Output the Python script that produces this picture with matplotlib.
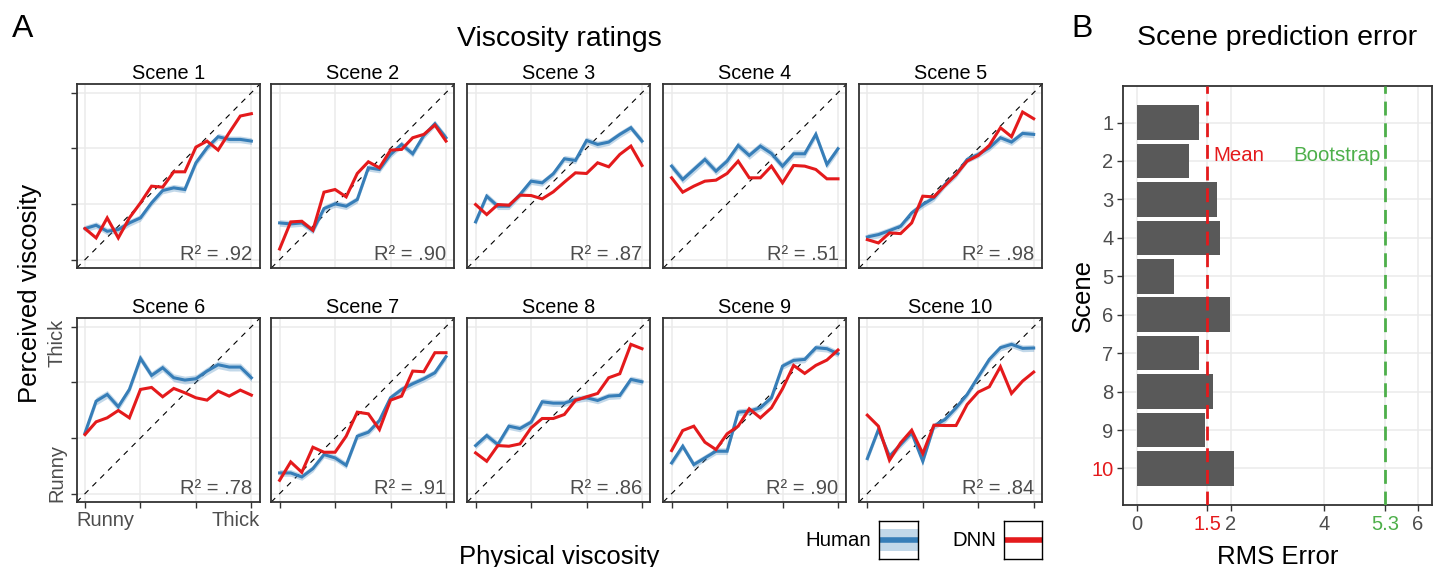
import numpy as np
import matplotlib
matplotlib.use('Agg')
import matplotlib.pyplot as plt

plt.rcParams['font.family'] = ['Liberation Sans', 'DejaVu Sans']

W, H, DPI = 1439, 567, 100

# ---- data: panel A (16 physical viscosity levels) ----
levels = list(range(1, 17))

human_1 = [3.79, 4.09, 3.55, 3.70, 4.30, 4.75, 6.10, 7.21, 7.45, 7.30, 9.70, 11.05, 12.04, 11.80, 11.80, 11.65]
dnn_1 = [3.79, 2.95, 4.75, 2.95, 4.75, 6.10, 7.60, 7.51, 8.89, 8.89, 11.11, 11.65, 10.84, 12.40, 13.90, 14.11]
human_2 = [4.30, 4.21, 4.30, 3.61, 5.59, 6.01, 5.80, 6.40, 9.25, 9.10, 10.45, 11.35, 10.51, 12.16, 13.21, 11.95]
dnn_2 = [1.96, 4.39, 4.45, 3.64, 7.06, 7.30, 6.64, 8.74, 9.79, 9.25, 10.84, 10.90, 11.95, 12.25, 13.09, 11.65]
human_3 = [4.39, 6.70, 5.80, 5.80, 6.85, 8.05, 7.90, 8.71, 10.06, 9.91, 11.71, 11.35, 11.56, 12.25, 12.85, 11.65]
dnn_3 = [5.95, 5.05, 5.95, 5.89, 6.79, 6.76, 6.46, 7.09, 7.96, 8.80, 8.74, 9.70, 9.34, 10.45, 11.20, 9.46]
human_4 = [9.40, 8.20, 9.10, 10.00, 8.95, 9.85, 11.26, 10.36, 11.20, 10.54, 9.40, 10.51, 10.51, 12.25, 9.55, 10.96]
dnn_4 = [8.35, 7.06, 7.60, 8.05, 8.14, 8.74, 9.85, 8.35, 8.35, 9.40, 7.90, 9.46, 9.40, 9.10, 8.26, 8.26]
human_5 = [3.04, 3.25, 3.61, 4.00, 5.20, 5.95, 6.55, 7.75, 8.65, 10.00, 10.45, 11.05, 11.95, 11.56, 12.34, 12.25]
dnn_5 = [2.80, 2.50, 3.40, 3.34, 4.30, 6.70, 6.64, 7.66, 8.65, 9.85, 10.36, 11.26, 12.85, 12.04, 14.26, 13.66]
human_6 = [6.46, 9.31, 9.91, 8.80, 10.36, 13.15, 11.62, 12.31, 11.41, 11.20, 11.32, 12.01, 12.58, 12.37, 12.37, 11.41]
dnn_6 = [6.31, 7.45, 7.81, 8.47, 7.81, 10.36, 10.54, 9.70, 10.45, 10.06, 9.61, 9.40, 10.21, 9.76, 10.30, 9.85]
human_7 = [2.86, 2.86, 2.50, 3.25, 4.51, 4.21, 3.55, 6.16, 6.52, 7.57, 9.61, 10.36, 10.87, 11.32, 11.86, 13.30]
dnn_7 = [2.20, 3.85, 2.92, 5.17, 4.72, 4.72, 6.16, 8.32, 8.17, 6.76, 9.40, 9.76, 12.01, 11.95, 13.66, 13.66]
human_8 = [5.32, 6.22, 5.41, 7.06, 6.85, 7.42, 9.25, 9.13, 9.13, 9.46, 9.61, 9.37, 9.76, 9.82, 11.26, 11.05]
dnn_8 = [4.66, 3.91, 5.32, 5.26, 5.47, 6.91, 7.75, 7.75, 8.11, 9.37, 9.70, 10.00, 11.41, 11.77, 14.41, 14.02]
human_9 = [3.76, 5.26, 3.61, 4.21, 4.81, 4.81, 8.32, 8.41, 8.71, 9.61, 12.46, 12.97, 13.06, 14.11, 14.02, 13.57]
dnn_9 = [4.87, 6.67, 7.06, 5.62, 4.96, 6.37, 7.06, 8.62, 7.81, 8.71, 10.42, 12.52, 11.80, 12.52, 13.00, 13.90]
human_10 = [4.15, 6.76, 4.36, 5.41, 6.46, 3.91, 7.06, 7.66, 8.71, 9.91, 11.50, 13.06, 14.11, 14.41, 14.05, 14.08]
dnn_10 = [8.05, 7.06, 4.00, 5.56, 6.70, 4.60, 7.15, 7.12, 7.12, 9.01, 10.12, 10.60, 12.40, 10.00, 11.11, 11.92]

# half width of the human confidence band per scene
human_ci = [0.30, 0.30, 0.30, 0.35, 0.30, 0.35, 0.30, 0.30, 0.30, 0.30]
r_squared = [0.92, 0.90, 0.87, 0.51, 0.98, 0.78, 0.91, 0.86, 0.90, 0.84]

# ---- data: panel B ----
scenes = list(range(1, 11))
rms_error = [1.32, 1.11, 1.71, 1.77, 0.79, 1.99, 1.32, 1.62, 1.45, 2.07]
mean_rms = 1.5
bootstrap_rms = 5.3
rms_ticks = [0, 1.5, 2, 4, 5.3, 6]
rms_tick_labels = ['0', '1.5', '2', '4', '5.3', '6']

humans = [human_1, human_2, human_3, human_4, human_5,
          human_6, human_7, human_8, human_9, human_10]
dnns = [dnn_1, dnn_2, dnn_3, dnn_4, dnn_5,
        dnn_6, dnn_7, dnn_8, dnn_9, dnn_10]

BLUE = '#377EB8'
RED = '#E41A1C'
GREEN = '#4DAF4A'
TXT_GRAY = '#4D4D4D'
FRAME = '#333333'
GRID = '#EBEBEB'

fig = plt.figure(figsize=(W / DPI, H / DPI), dpi=DPI)


def px_axes(x0, y0, x1, y1):
    return fig.add_axes([x0 / W, 1 - y1 / H, (x1 - x0) / W, (y1 - y0) / H])


def px_text(x, y, s, **kw):
    return fig.text(x / W, 1 - y / H, s, **kw)


def style_frame(ax, lw=1.3):
    for sp in ax.spines.values():
        sp.set_color(FRAME)
        sp.set_linewidth(lw)


# ===== panel A =====
col_left = [76.7, 271.3, 467.3, 663.3, 859.0]
row_top = [84.3, 318.3]
pw, ph = 183.0, 183.7
lim = (0.25, 16.75)

for i in range(10):
    r, c = divmod(i, 5)
    x0, y0 = col_left[c], row_top[r]
    ax = px_axes(x0, y0, x0 + pw, y0 + ph)
    ax.set_xlim(*lim)
    ax.set_ylim(*lim)
    ax.set_xticks([1, 6, 11, 16])
    ax.set_yticks([1, 6, 11, 16])
    ax.grid(True, color=GRID, lw=1.1)
    ax.set_axisbelow(True)
    style_frame(ax)

    h = np.array(humans[i])
    ci = human_ci[i]
    ax.plot(lim, lim, color='black', lw=0.8, dashes=(5, 5), zorder=2)
    ax.fill_between(levels, h - ci, h + ci, color=BLUE, alpha=0.3, lw=0, zorder=3)
    ax.plot(levels, h, color=BLUE, lw=2.2, zorder=4, solid_joinstyle='miter')
    ax.plot(levels, dnns[i], color=RED, lw=2.2, zorder=5, solid_joinstyle='miter')

    ax.text(0.958, 0.045, 'R\u00b2 = ' + ('%.2f' % r_squared[i])[1:],
            transform=ax.transAxes, ha='right', va='baseline',
            fontsize=14.5, color=TXT_GRAY)
    ax.set_title('Scene %d' % (i + 1), fontsize=14.3, pad=3.5)

    ax.tick_params(labelleft=False, labelbottom=False, length=4,
                   color=FRAME, width=1.0,
                   left=(c == 0), bottom=(r == 1))

    if r == 1 and c == 0:
        ax.text(0, -9 / ph, 'Runny', transform=ax.transAxes, ha='left',
                va='top', fontsize=14.5, color=TXT_GRAY)
        ax.text(1, -9 / ph, 'Thick', transform=ax.transAxes, ha='right',
                va='top', fontsize=14.5, color=TXT_GRAY)
        ax.text(-10 / pw, 0, 'Runny', transform=ax.transAxes, ha='right',
                va='bottom', rotation=90, fontsize=14.5, color=TXT_GRAY)
        ax.text(-10 / pw, 1, 'Thick', transform=ax.transAxes, ha='right',
                va='top', rotation=90, fontsize=14.5, color=TXT_GRAY)

px_text(559, 46, 'Viscosity ratings', ha='center', va='baseline', fontsize=20.5)
px_text(559, 545, 'Physical viscosity', ha='center', va='top', fontsize=18.5)
px_text(30, 293, 'Perceived viscosity', ha='center', va='center',
        rotation=90, fontsize=18.5)
px_text(12, 36.7, 'A', ha='left', va='baseline', fontsize=23)

# legend boxes
box_h = px_axes(879, 521, 918, 559)
box_h.set_xlim(0, 1)
box_h.set_ylim(0, 1)
box_h.fill_between([0, 1], 0.21, 0.79, color=BLUE, alpha=0.3, lw=0)
box_h.plot([0, 1], [0.5, 0.5], color=BLUE, lw=4)
box_d = px_axes(1004, 521, 1042, 559)
box_d.set_xlim(0, 1)
box_d.set_ylim(0, 1)
box_d.plot([0, 1], [0.5, 0.5], color=RED, lw=4)
for b in (box_h, box_d):
    b.set_xticks([])
    b.set_yticks([])
    for sp in b.spines.values():
        sp.set_color('black')
        sp.set_linewidth(1.0)
px_text(871, 540, 'Human', ha='right', va='center', fontsize=14.7)
px_text(996, 540, 'DNN', ha='right', va='center', fontsize=14.7)

# ===== panel B =====
axb = px_axes(1123, 86, 1432, 505)
axb.barh(scenes, rms_error, height=0.9, color='#595959', zorder=2)
axb.axvline(mean_rms, color=RED, lw=2, dashes=(5, 2.8), zorder=3)
axb.axvline(bootstrap_rms, color=GREEN, lw=2, dashes=(5, 2.8), zorder=3)
axb.set_xlim(-0.3, 6.3)
axb.set_ylim(10.95, 0.05)
axb.set_yticks(scenes)
axb.set_yticklabels([str(s) for s in scenes])
axb.set_xticks(rms_ticks)
axb.set_xticklabels(rms_tick_labels)
axb.grid(True, color=GRID, lw=1.1)
axb.set_axisbelow(True)
style_frame(axb)
axb.tick_params(labelsize=14.5, labelcolor=TXT_GRAY, length=4,
                color=FRAME, width=1.0, pad=3)
axb.get_yticklabels()[-1].set_color(RED)
axb.get_xticklabels()[1].set_color(RED)
axb.get_xticklabels()[4].set_color(GREEN)
axb.text(mean_rms + 0.12, 1.85, 'Mean', color=RED, ha='left', va='center',
         fontsize=14.7)
axb.text(bootstrap_rms - 0.1, 1.85, 'Bootstrap', color=GREEN, ha='right',
         va='center', fontsize=14.7)

px_text(1277, 45, 'Scene prediction error', ha='center', va='baseline',
        fontsize=20.5)
px_text(1278, 545, 'RMS Error', ha='center', va='top', fontsize=18.5)
px_text(1083, 295, 'Scene', ha='center', va='center', rotation=90,
        fontsize=18.5)
px_text(1071, 36.7, 'B', ha='left', va='baseline', fontsize=23)

fig.savefig('out.png', dpi=DPI)
